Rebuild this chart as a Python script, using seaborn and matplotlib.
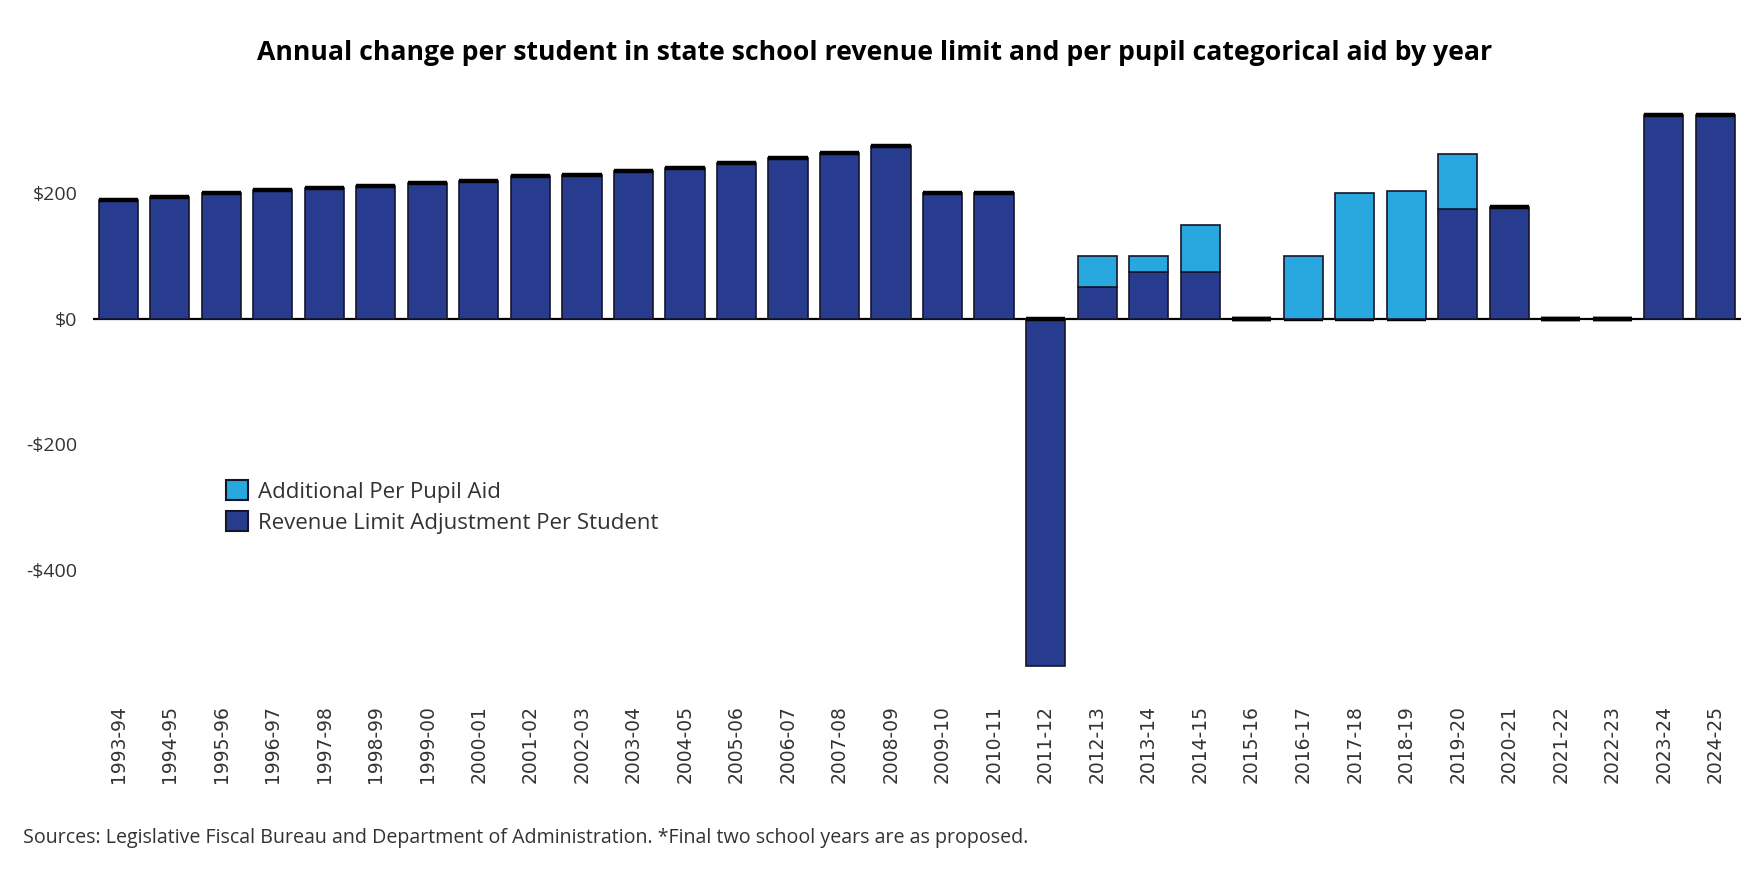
import matplotlib
matplotlib.use("Agg")
import matplotlib.pyplot as plt
import seaborn as sns
from matplotlib.patches import Patch

years = ["1993-94", "1994-95", "1995-96", "1996-97", "1997-98", "1998-99",
         "1999-00", "2000-01", "2001-02", "2002-03", "2003-04", "2004-05",
         "2005-06", "2006-07", "2007-08", "2008-09", "2009-10", "2010-11",
         "2011-12", "2012-13", "2013-14", "2014-15", "2015-16", "2016-17",
         "2017-18", "2018-19", "2019-20", "2020-21", "2021-22", "2022-23",
         "2023-24", "2024-25"]
revenue_limit = [190, 194, 200, 206, 209, 212, 216, 220, 227, 230, 236, 241,
                 248, 257, 264, 275, 200, 200, -554, 50, 75, 75, 0, 0,
                 0, 0, 175, 179, 0, 0, 325, 325]
pupil_aid = [0, 0, 0, 0, 0, 0, 0, 0, 0, 0, 0, 0,
             0, 0, 0, 0, 0, 0, 0, 50, 25, 75, 0, 100,
             200, 204, 88, 0, 0, 0, 0, 0]
y_ticks = [-400, -200, 0, 200]
y_labels = ["-$400", "-$200", "$0", "$200"]

dark = "#283c8f"
light = "#29a8df"
edge = "#15152a"
text_col = "#333333"

sns.set_theme(style="white")
plt.rcParams["font.family"] = ["Open Sans", "DejaVu Sans"]

fig = plt.figure(figsize=(17.6, 8.8), dpi=100)
ax = fig.add_axes([0.0526, 0.2273, 0.9366, 0.6591])

sns.barplot(x=years, y=revenue_limit, color=dark, saturation=1, width=0.76,
            edgecolor=edge, linewidth=1.2, ax=ax, zorder=2)
# aid is stacked on the positive side
stack_base = [max(v, 0) for v in revenue_limit]
ax.bar(range(len(years)), pupil_aid, bottom=stack_base, width=0.76,
       color=light, edgecolor=edge, linewidth=1.2, zorder=2)

# zero-height segments show up as heavy black caps
for p in ax.patches:
    if abs(p.get_height()) < 1e-9:
        p.set_linewidth(3.2)
        p.set_edgecolor("black")

ax.axhline(0, color="black", lw=1.6, zorder=1)

ax.set_xlim(-0.5, len(years) - 0.5)
ax.set_ylim(-576, 349)
ax.set_yticks(y_ticks)
ax.set_yticklabels(y_labels, fontsize=14, color=text_col)
ax.tick_params(axis="y", length=0, pad=11)
ax.tick_params(axis="x", length=0, pad=18)
for lbl in ax.get_xticklabels():
    lbl.set_rotation(90)
    lbl.set_fontfamily("DejaVu Sans")
    lbl.set_fontsize(13.5)
    lbl.set_color(text_col)
    lbl.set_va("top")
ax.set_xlabel("")
ax.set_ylabel("")
sns.despine(ax=ax, left=True, bottom=True)

handles = [Patch(facecolor=light, edgecolor=edge, linewidth=1.5),
           Patch(facecolor=dark, edgecolor=edge, linewidth=1.5)]
fig.legend(handles, ["Additional Per Pupil Aid", "Revenue Limit Adjustment Per Student"],
           loc="upper left", bbox_to_anchor=(0.1221, 0.467), frameon=False,
           borderpad=0, fontsize=16, handlelength=1.0, handleheight=1.0,
           handletextpad=0.45, labelspacing=0.38, labelcolor=text_col)

fig.text(0.497, 0.94, "Annual change per student in state school revenue limit and per pupil categorical aid by year",
         ha="center", va="center", fontsize=19.2, fontweight="bold", color="black")
fig.text(0.013, 0.048, "Sources: Legislative Fiscal Bureau and Department of Administration. *Final two school years are as proposed.",
         ha="left", va="center", fontsize=14.1, color=text_col)

fig.savefig("out.png", dpi=100)
